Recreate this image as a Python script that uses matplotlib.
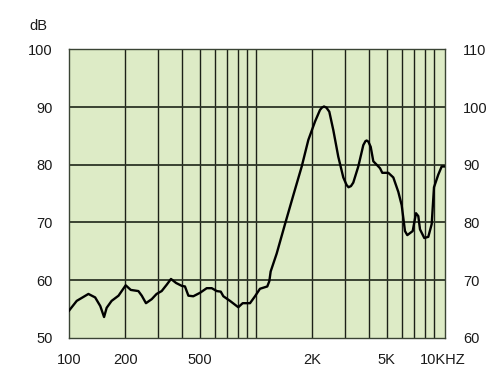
import matplotlib
matplotlib.use("Agg")
from matplotlib import pyplot as plt

# frequency response
freq = [100, 110, 127, 138, 147, 154, 159, 169, 184, 201, 214, 235, 245, 258, 277,
        294, 313, 333, 351, 374, 401, 417, 435, 462, 502, 545, 580, 617, 648, 669,
        726, 804, 849, 929, 988, 1050, 1149, 1178, 1198, 1290, 1429, 1583, 1756,
        1905, 2069, 2199, 2250, 2310, 2380, 2466, 2591, 2754, 2930, 3050, 3124,
        3220, 3313, 3524, 3748, 3850, 3908, 3990, 4106, 4240, 4421, 4604, 4736,
        5101, 5424, 5768, 6012, 6262, 6443, 6886, 7171, 7378, 7534, 7943, 8344,
        8700, 8951, 9439, 9840, 10250]
level = [54.7, 56.4, 57.6, 57.0, 55.5, 53.6, 55.2, 56.4, 57.3, 59.1, 58.3, 58.1,
         57.3, 56.0, 56.7, 57.6, 58.1, 59.2, 60.2, 59.5, 59.0, 58.9, 57.3, 57.2,
         57.8, 58.6, 58.6, 58.1, 58.0, 57.2, 56.4, 55.3, 56.0, 56.0, 57.2, 58.5,
         58.9, 59.8, 61.5, 64.6, 69.7, 74.7, 79.7, 84.3, 87.5, 89.5, 89.9, 90.1,
         89.9, 89.2, 86.0, 81.4, 77.8, 76.5, 76.1, 76.3, 76.9, 79.7, 83.4, 84.1,
         84.2, 84.0, 83.1, 80.6, 80.0, 79.4, 78.6, 78.6, 77.8, 75.3, 73.0, 68.5,
         67.8, 68.5, 71.6, 71.1, 68.8, 67.3, 67.5, 69.7, 76.1, 78.3, 79.7, 79.7]

xticks = [100, 200, 500, 2000, 5000, 10000]
xlabels = ['100', '200', '500', '2K', '5K', '10KHZ']
vlines = [200, 300, 400, 500, 600, 700, 800, 900, 1000,
          2000, 3000, 4000, 5000, 6000, 7000, 8000, 9000]
left_ticks = [50, 60, 70, 80, 90, 100]
right_ticks = [60, 70, 80, 90, 100, 110]

plt.rcParams['font.family'] = ['Liberation Sans', 'DejaVu Sans']

fig = plt.figure(figsize=(5, 3.77), dpi=100)
ax = fig.add_axes([0.138, 0.104, 0.752, 0.765])
ax.set_facecolor('#ddebc6')
ax.set_xscale('log')
ax.set_xlim(100, 10250)
ax.set_ylim(50, 100)

for v in vlines:
    ax.axvline(v, color='#1c2018', lw=1.0, zorder=1)
for h in [60, 70, 80, 90]:
    ax.axhline(h, color='#2c3526', lw=1.3, zorder=1)

ax.plot(freq, level, color='black', lw=1.7, zorder=3)

ax.set_xticks(xticks)
ax.set_xticklabels(xlabels)
ax.xaxis.set_minor_locator(matplotlib.ticker.NullLocator())
ax.set_yticks(left_ticks)
ax.tick_params(axis='both', length=0, labelsize=10.5, labelcolor='#1a1a1a')
ax.tick_params(axis='x', pad=11)
ax.tick_params(axis='y', pad=12)
for s in ax.spines.values():
    s.set_color('#3a4434')
    s.set_linewidth(1.0)

ax2 = ax.twinx()
ax2.set_ylim(60, 110)
ax2.set_yticks(right_ticks)
ax2.tick_params(axis='y', length=0, labelsize=10.5, pad=13, labelcolor='#1a1a1a')
for s in ax2.spines.values():
    s.set_visible(False)

fig.text(0.058, 0.93, 'dB', fontsize=10.5, va='center', color='#1a1a1a')

fig.savefig('out.png', dpi=100)
